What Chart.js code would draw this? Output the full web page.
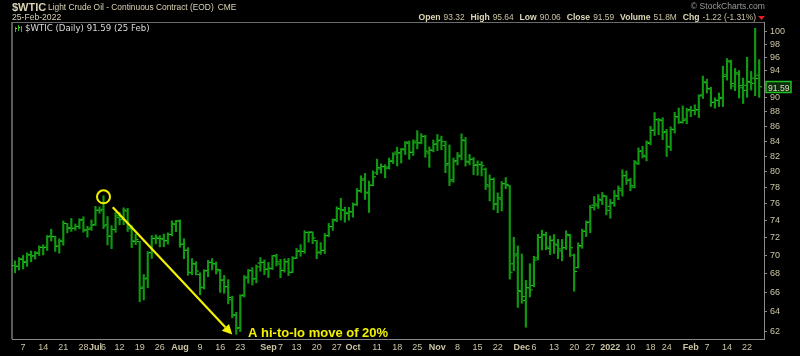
<!DOCTYPE html>
<html>
<head>
<meta charset="utf-8">
<script src="https://cdn.jsdelivr.net/npm/chart.js@4.4.1/dist/chart.umd.min.js"></script>
<style>
    html, body { margin: 0; padding: 0; background: #000; }
    #wrap { position: relative; width: 800px; height: 356px; }
    canvas { display: block; }
</style>
</head>
<body>
<div id="wrap"><canvas id="oilChart" width="800" height="356"></canvas></div>
<script>
// trading sessions, by month
const sessions = [
    ['2021-06', [3,4,7,8,9,10,11,14,15,16,17,18,21,22,23,24,25,28,29,30]],
    ['2021-07', [1,2,6,7,8,9,12,13,14,15,16,19,20,21,22,23,26,27,28,29,30]],
    ['2021-08', [2,3,4,5,6,9,10,11,12,13,16,17,18,19,20,23,24,25,26,27,30,31]],
    ['2021-09', [1,2,3,7,8,9,10,13,14,15,16,17,20,21,22,23,24,27,28,29,30]],
    ['2021-10', [1,4,5,6,7,8,11,12,13,14,15,18,19,20,21,22,25,26,27,28,29]],
    ['2021-11', [1,2,3,4,5,8,9,10,11,12,15,16,17,18,19,22,23,24,26,29,30]],
    ['2021-12', [1,2,3,6,7,8,9,10,13,14,15,16,17,20,21,22,23,27,28,29,30,31]],
    ['2022-01', [3,4,5,6,7,10,11,12,13,14,18,19,20,21,24,25,26,27,28,31]],
    ['2022-02', [1,2,3,4,7,8,9,10,11,14,15,16,17,18,22,23,24,25]]
];
const days = [];
sessions.forEach(([m, ds]) => ds.forEach(d => days.push(m + '-' + String(d).padStart(2, '0'))));

const opens = [
    68.87,68.79,69.55,69.31,70.08,69.94,70.24,70.91,70.93,72.19,72.13,71.04,71.60,73.67,73.17,73.11,73.31,74.14,72.87,73.13,
    73.52,75.24,75.34,73.50,72.16,72.96,74.35,74.17,75.14,73.04,71.57,71.58,66.56,67.51,70.30,71.93,71.91,71.84,71.68,72.38,73.57,
    73.95,71.27,70.60,68.09,69.04,67.90,66.55,68.34,69.21,69.05,68.30,67.32,66.60,65.22,63.62,62.40,65.73,67.63,68.31,67.46,69.16,69.24,
    68.46,68.55,69.93,69.05,68.34,69.29,68.16,69.69,70.52,70.44,72.62,72.68,71.67,70.37,70.57,72.26,73.29,74.12,75.37,75.22,74.92,
    75.05,75.96,77.57,79.09,77.32,78.29,79.85,80.35,80.68,80.60,81.41,82.54,82.43,82.84,83.70,82.53,84.00,83.77,84.60,82.41,82.77,
    83.62,84.13,83.40,81.05,78.99,81.43,82.12,84.05,81.22,81.60,80.89,80.93,80.32,78.16,79.04,76.01,76.58,78.46,78.22,69.07,70.17,
    66.10,65.14,66.47,66.73,69.73,72.06,72.32,70.77,71.74,71.16,70.50,70.86,72.23,70.03,68.66,71.04,72.74,73.83,75.85,75.77,76.44,76.92,
    75.69,76.15,76.96,77.60,79.52,78.96,78.06,81.01,82.70,81.93,83.68,85.50,86.89,86.77,85.28,83.20,85.53,87.29,86.50,87.01,
    88.32,88.18,88.32,90.42,92.19,91.29,89.35,89.60,90.05,93.36,95.30,91.71,93.46,91.44,91.81,92.26,92.87,93.32
];
const highs = [
    69.40,69.76,70.00,70.29,70.50,70.45,71.08,71.20,72.27,72.99,72.17,71.88,73.96,73.67,74.25,73.60,74.22,74.45,73.33,74.07,
    75.70,75.64,76.98,74.48,73.40,74.95,74.95,75.52,75.45,73.41,72.43,71.60,67.90,70.44,72.25,72.34,72.24,72.42,72.57,73.97,74.03,
    74.08,71.89,70.88,69.65,69.31,68.10,68.43,69.46,69.65,69.28,68.46,67.80,67.35,65.60,63.93,65.75,67.80,68.45,68.66,68.94,69.76,69.50,
    69.23,70.00,70.14,69.57,69.63,69.67,69.87,70.78,71.22,72.82,72.72,72.69,71.70,71.45,72.49,73.66,74.20,75.64,76.67,75.60,75.57,
    76.12,77.88,79.48,79.78,78.82,80.11,81.62,81.01,80.89,81.76,82.45,83.18,83.02,83.93,84.02,84.16,85.41,85.00,84.78,83.22,84.14,
    84.88,84.67,84.00,83.48,81.76,82.48,84.97,84.49,82.23,81.83,81.39,81.30,80.48,79.58,79.20,77.34,78.75,79.26,78.27,72.06,71.07,
    70.16,67.27,69.08,69.91,72.40,72.88,72.65,72.21,72.38,71.82,71.81,72.81,72.42,70.15,71.42,72.99,73.95,75.81,76.90,77.14,77.40,77.00,
    76.54,77.64,78.20,80.24,80.09,79.17,81.45,83.09,83.31,84.03,86.00,87.91,87.09,87.19,85.59,85.93,87.95,88.54,88.84,88.50,
    88.77,89.00,90.42,93.17,92.73,91.55,90.00,90.70,94.66,95.82,95.57,94.31,94.00,92.88,96.00,93.87,100.54,95.64
];
const lows = [
    68.09,68.39,68.51,68.79,69.29,69.59,69.99,70.05,70.55,71.63,70.45,70.25,71.15,72.57,72.73,72.87,73.05,72.64,72.08,72.85,
    73.42,74.87,73.06,71.18,70.76,72.62,73.49,73.52,72.73,70.88,71.21,65.01,65.21,66.48,69.66,71.31,70.96,70.98,71.28,72.21,72.70,
    70.92,69.64,67.82,67.88,67.86,65.74,66.35,67.66,68.41,67.96,66.00,65.90,64.80,63.37,61.74,62.01,65.51,66.97,66.78,67.01,68.26,67.88,
    67.58,68.44,68.84,67.56,68.16,67.79,68.10,69.64,69.91,70.24,71.50,71.32,69.64,70.13,70.21,72.12,72.85,73.87,74.06,73.81,74.05,
    74.40,75.80,77.40,76.53,74.96,78.22,79.62,79.80,79.22,80.33,81.05,80.73,81.11,82.22,81.60,82.10,82.96,83.63,81.86,80.56,82.57,
    82.74,82.86,79.87,78.25,78.67,80.86,81.52,80.71,80.89,79.63,79.55,79.46,77.76,76.36,75.29,74.94,75.14,77.85,67.40,68.32,64.43,
    64.86,62.43,65.52,66.59,69.49,70.62,70.65,70.10,70.22,69.64,69.40,70.67,69.88,66.12,68.60,70.80,72.13,72.58,75.25,75.45,75.91,74.68,
    74.27,75.70,76.50,76.95,78.39,77.60,77.95,80.91,81.77,81.39,83.50,84.75,84.85,84.19,81.96,82.75,85.07,86.39,86.44,86.34,
    87.33,87.58,87.21,89.90,90.69,88.76,88.53,88.75,88.75,92.57,91.27,91.02,89.96,89.18,90.06,91.12,90.30,90.06
];
const closes = [
    68.81,69.62,69.23,70.05,69.96,70.29,70.91,70.88,72.12,72.15,71.04,71.64,73.66,73.06,73.08,73.30,74.05,72.91,72.98,73.47,
    75.23,75.16,73.37,72.20,72.94,74.56,74.10,75.25,73.13,71.65,71.81,66.42,67.42,70.30,71.91,72.07,71.91,71.65,72.39,73.62,73.95,
    71.26,70.56,68.15,69.09,68.28,66.48,68.29,69.25,69.09,68.44,67.29,66.59,65.46,63.69,62.32,65.64,67.54,68.36,67.42,68.74,69.21,68.50,
    68.59,69.99,69.29,68.35,69.30,68.14,69.72,70.45,70.46,72.61,72.61,71.97,70.29,70.56,72.23,73.30,73.98,75.45,75.29,74.83,75.03,
    75.88,77.62,78.93,77.43,78.30,79.35,80.52,80.64,80.44,81.31,82.28,82.44,82.96,83.87,82.50,83.76,83.76,84.65,82.66,82.81,83.57,
    84.05,83.91,80.86,78.81,81.27,81.93,84.15,81.34,81.59,80.79,80.88,80.76,78.36,79.01,75.94,76.75,78.50,78.39,68.15,69.95,66.18,
    65.57,66.50,66.26,69.49,72.05,72.36,70.94,71.67,71.29,70.73,70.87,72.38,70.86,68.23,71.12,72.76,73.79,75.57,75.98,76.56,76.99,75.21,
    76.08,76.99,77.85,79.46,78.90,78.23,81.22,82.64,82.12,83.82,85.43,86.96,86.90,85.14,83.31,85.60,87.35,86.61,86.82,88.15,
    88.20,88.26,90.27,92.31,91.32,89.36,89.66,89.88,93.10,95.46,92.07,93.66,91.76,91.07,92.35,92.10,92.81,91.59
];

// axis labels (92 sits under the last-price box, so it carries no text)
const priceTicks = [62,64,66,68,70,72,74,76,78,80,82,84,86,88,90,92,94,96,98,100];
const hiddenPriceLabels = [92];
const dateTicks = [
    ['2021-06-07','7'], ['2021-06-14','14'], ['2021-06-21','21'], ['2021-06-28','28'],
    ['2021-07-01','Jul',1], ['2021-07-06','6'], ['2021-07-12','12'], ['2021-07-19','19'], ['2021-07-26','26'],
    ['2021-08-02','Aug',1], ['2021-08-09','9'], ['2021-08-16','16'], ['2021-08-23','23'],
    ['2021-09-01','Sep',1], ['2021-09-07','7'], ['2021-09-13','13'], ['2021-09-20','20'], ['2021-09-27','27'],
    ['2021-10-01','Oct',1], ['2021-10-11','11'], ['2021-10-18','18'], ['2021-10-25','25'],
    ['2021-11-01','Nov',1], ['2021-11-08','8'], ['2021-11-15','15'], ['2021-11-22','22'],
    ['2021-12-01','Dec',1], ['2021-12-06','6'], ['2021-12-13','13'], ['2021-12-20','20'], ['2021-12-27','27'],
    ['2022-01-03','2022',1], ['2022-01-10','10'], ['2022-01-18','18'], ['2022-01-24','24'],
    ['2022-02-01','Feb',1], ['2022-02-07','7'], ['2022-02-14','14'], ['2022-02-22','22']
];
const quote = [['Open', '93.32'], ['High', '95.64'], ['Low', '90.06'], ['Close', '91.59'], ['Volume', '51.8M'], ['Chg', '-1.22 (-1.31%)']];

const tickText = {};
const tickBold = {};
dateTicks.forEach(([d, t, b]) => {
    const i = days.indexOf(d);
    tickText[i] = t;
    tickBold[i] = !!b;
});

const textColor = '#cbc5a6';
const lastIdx = days.length - 1;
const SANS = '"Liberation Sans", Arial';

const chromePlugin = {
    id: 'chrome',
    beforeDatasetsDraw(chart) {
        const { ctx, chartArea: a } = chart;
        ctx.save();
        ctx.strokeStyle = '#5a5a5a';
        ctx.lineWidth = 2;
        ctx.beginPath();
        ctx.moveTo(a.left, a.bottom);
        ctx.lineTo(a.left, a.top);
        ctx.stroke();
        ctx.lineWidth = 1;
        ctx.strokeStyle = '#6a6a6a';
        ctx.beginPath();
        ctx.moveTo(a.left, a.top + 0.5);
        ctx.lineTo(a.right, a.top + 0.5);
        ctx.stroke();
        ctx.restore();
    },
    afterDraw(chart) {
        const { ctx, scales } = chart;
        const x = scales.x, y = scales.y;
        ctx.save();
        ctx.textBaseline = 'alphabetic';
        ctx.textAlign = 'left';

        // title lines
        ctx.fillStyle = '#d8d2b2';
        ctx.font = 'bold 11px ' + SANS;
        ctx.fillText('$WTIC', 12, 11);
        ctx.font = '8.4px ' + SANS;
        const title = 'Light Crude Oil - Continuous Contract (EOD)';
        ctx.fillText(title, 48, 10);
        ctx.fillText('CME', 48 + ctx.measureText(title).width + 4, 10);
        ctx.font = '8.6px ' + SANS;
        ctx.fillText('25-Feb-2022', 12, 20);

        ctx.fillStyle = '#9a9a9a';
        ctx.textAlign = 'right';
        ctx.font = '8.6px ' + SANS;
        ctx.fillText('\u00a9 StockCharts.com', 765, 9);
        ctx.textAlign = 'left';

        // quote line, right aligned to end at 756
        const boldF = 'bold 8.6px ' + SANS, normF = '8.4px ' + SANS;
        let total = 0;
        const parts = quote.map(([l, v]) => {
            ctx.font = boldF; const wl = ctx.measureText(l).width;
            ctx.font = normF; const wv = ctx.measureText(v).width;
            return [l, v, wl, wv];
        });
        parts.forEach(([l, v, wl, wv], k) => { total += wl + 3 + wv + (k < parts.length - 1 ? 6 : 0); });
        let px = 756 - total;
        parts.forEach(([l, v, wl, wv]) => {
            ctx.font = boldF; ctx.fillStyle = '#ddd7b8'; ctx.fillText(l, px, 20); px += wl + 3;
            ctx.font = normF; ctx.fillStyle = '#c8c2a2'; ctx.fillText(v, px, 20); px += wv + 6;
        });
        ctx.fillStyle = '#e02020';
        ctx.beginPath();
        ctx.moveTo(758, 16);
        ctx.lineTo(765, 16);
        ctx.lineTo(761.5, 20);
        ctx.closePath();
        ctx.fill();

        // legend inside plot
        ctx.strokeStyle = '#22c022';
        ctx.lineWidth = 1;
        [[15, 27, 32], [18, 25, 31], [21, 26, 32]].forEach(([lx, t, b]) => {
            ctx.beginPath();
            ctx.moveTo(lx + 0.5, t);
            ctx.lineTo(lx + 0.5, b);
            ctx.stroke();
        });
        ctx.fillStyle = '#e0c020';
        ctx.fillRect(16, 28, 1, 1);
        ctx.fillRect(19, 27, 1, 1);
        ctx.fillStyle = '#dcdcdc';
        ctx.font = '8.6px "DejaVu Sans", Verdana';
        ctx.fillText('$WTIC (Daily) 91.59 (25 Feb)', 25, 31);

        // last price box
        const py = Math.round(y.getPixelForValue(closes[lastIdx]));
        ctx.fillStyle = '#0c2a0c';
        ctx.strokeStyle = '#20c020';
        ctx.lineWidth = 1.5;
        ctx.beginPath();
        ctx.rect(766, py - 5.5, 25, 11);
        ctx.fill();
        ctx.stroke();
        ctx.fillStyle = '#e2dcc0';
        ctx.font = '8.6px ' + SANS;
        ctx.fillText(closes[lastIdx].toFixed(2), 768, py + 3.5);

        // hi-to-lo annotation
        const peak = days.indexOf('2021-07-06');
        const cx = x.getPixelForValue(peak);
        const cy = y.getPixelForValue(highs[peak]) + 1;
        ctx.strokeStyle = '#f2f200';
        ctx.fillStyle = '#f2f200';
        ctx.lineWidth = 2;
        ctx.beginPath();
        ctx.arc(cx, cy, 6.5, 0, Math.PI * 2);
        ctx.stroke();

        const x0 = x.getPixelForValue(peak + 2.3), y0 = y.getPixelForValue(75.6);
        const x1 = x.getPixelForValue(54), y1 = y.getPixelForValue(61.7);
        const ang = Math.atan2(y1 - y0, x1 - x0);
        const hl = 10, hw = 5;
        const bx = x1 - hl * Math.cos(ang), by = y1 - hl * Math.sin(ang);
        ctx.lineWidth = 2.2;
        ctx.beginPath();
        ctx.moveTo(x0, y0);
        ctx.lineTo(bx, by);
        ctx.stroke();
        ctx.beginPath();
        ctx.moveTo(x1, y1);
        ctx.lineTo(bx + hw * Math.sin(ang), by - hw * Math.cos(ang));
        ctx.lineTo(bx - hw * Math.sin(ang), by + hw * Math.cos(ang));
        ctx.closePath();
        ctx.fill();

        ctx.font = 'bold 13px ' + SANS;
        ctx.fillText('A hi-to-lo move of 20%', 248, 337);
        ctx.restore();
    }
};

const idx = days.map((d, i) => i);

new Chart(document.getElementById('oilChart'), {
    type: 'bar',
    data: {
        datasets: [
            {
                type: 'bar',
                label: 'High-Low',
                data: idx.map(i => ({ x: i, y: [lows[i], highs[i]] })),
                backgroundColor: '#0f990f',
                borderWidth: 0,
                barThickness: 1.5,
                order: 2
            },
            {
                type: 'scatter',
                label: 'Open',
                data: idx.map(i => ({ x: i - 0.45, y: opens[i] })),
                pointStyle: 'line',
                radius: 1,
                borderColor: '#2ccc2c',
                borderWidth: 1,
                order: 1
            },
            {
                type: 'scatter',
                label: 'Close',
                data: idx.map(i => ({ x: i + 0.45, y: closes[i] })),
                pointStyle: 'line',
                radius: 1,
                borderColor: '#2ccc2c',
                borderWidth: 1,
                order: 1
            }
        ]
    },
    options: {
        responsive: false,
        animation: false,
        events: [],
        layout: { padding: { left: 12, top: 22, right: 0, bottom: 0 } },
        plugins: { legend: { display: false }, tooltip: { enabled: false } },
        scales: {
            x: {
                type: 'linear',
                position: 'bottom',
                offset: false,
                min: -0.75,
                max: 186.2,
                grid: { display: true, drawOnChartArea: false, drawTicks: false },
                border: { display: true, color: '#8a8a8a', dash: [2, 2] },
                afterBuildTicks: s => { s.ticks = Object.keys(tickText).map(v => ({ value: +v })); },
                afterFit: s => { s.height = 17; },
                ticks: {
                    autoSkip: false,
                    maxRotation: 0,
                    padding: 3,
                    color: textColor,
                    font: c => ({ family: SANS, size: 9, weight: tickBold[c.tick && c.tick.value] ? 'bold' : 'normal' }),
                    callback: v => tickText[v] || ''
                }
            },
            y: {
                type: 'logarithmic',
                position: 'right',
                min: 61.27,
                max: 101.56,
                grid: { drawOnChartArea: false, drawTicks: true, tickLength: 3, color: '#8a8a8a' },
                border: { display: true, color: '#8a8a8a', dash: [2, 2] },
                afterBuildTicks: s => { s.ticks = priceTicks.map(v => ({ value: v })); },
                afterFit: s => { s.width = 36; },
                ticks: {
                    padding: 3,
                    color: textColor,
                    font: { family: SANS, size: 9 },
                    callback: v => hiddenPriceLabels.includes(v) ? '' : String(v)
                }
            }
        }
    },
    plugins: [chromePlugin]
});
</script>
</body>
</html>
